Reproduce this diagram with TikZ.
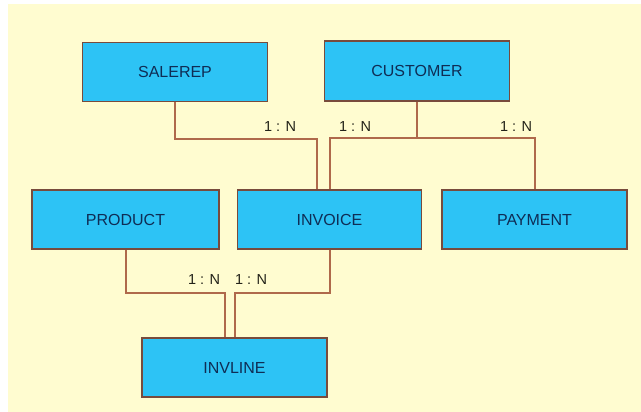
\documentclass[tikz,border=0pt]{standalone}
\usepackage{fontspec}
\setmainfont{Liberation Sans}
\definecolor{bgyellow}{RGB}{255,252,208}
\definecolor{boxfill}{RGB}{45,195,245}
\definecolor{boxedge}{RGB}{120,75,60}
\definecolor{linkcol}{RGB}{175,105,75}
\definecolor{entitytext}{RGB}{15,45,85}
\definecolor{cardtext}{RGB}{35,35,25}
\tikzset{
  entity/.style={draw=boxedge, line width=1.5pt, fill=boxfill, rectangle,
    minimum width=185pt, minimum height=59pt, inner sep=0pt,
    text=entitytext, font=\fontsize{16}{18}\selectfont},
  link/.style={draw=linkcol, line width=2pt},
  card/.style={text=cardtext, inner sep=0pt, font=\fontsize{14.5}{16}\selectfont}
}
\begin{document}
\begin{tikzpicture}[x=1pt, y=-1pt]
\useasboundingbox (0,0) rectangle (641,412);
\fill[white] (0,0) rectangle (641,412);
\fill[bgyellow] (8,4) rectangle (641,412);

\node[entity] (salerep) at (175,72) {SALEREP};
\node[entity, minimum height=60pt] (customer) at (417,71) {CUSTOMER};
\node[entity, minimum width=187pt] (product) at (125.5,219.5) {PRODUCT};
\node[entity, minimum width=184pt] (invoice) at (329.5,219.5) {INVOICE};
\node[entity] (payment) at (534.5,219.5) {PAYMENT};
\node[entity] (invline) at (234.5,367.5) {INVLINE};

\draw[link] (salerep.south) -- ++(0,37) -| ([xshift=-12.5pt]invoice.north);
\draw[link] (customer.south) -- ++(0,36) coordinate (cj);
\draw[link] (invoice.north) |- (cj) -| (payment.north);
\draw[link] (product.south) -- ++(0,43) -| ([xshift=-10pt]invline.north);
\draw[link] (invoice.south) -- ++(0,43) -| (invline.north);

\node[card] (c1) at (280,127) {1 : N};
\node[card] (c2) at (355,127) {1 : N};
\node[card] (c3) at (516,127) {1 : N};
\node[card] (c4) at (204,280) {1 : N};
\node[card] (c5) at (251,280) {1 : N};
\end{tikzpicture}
\end{document}
